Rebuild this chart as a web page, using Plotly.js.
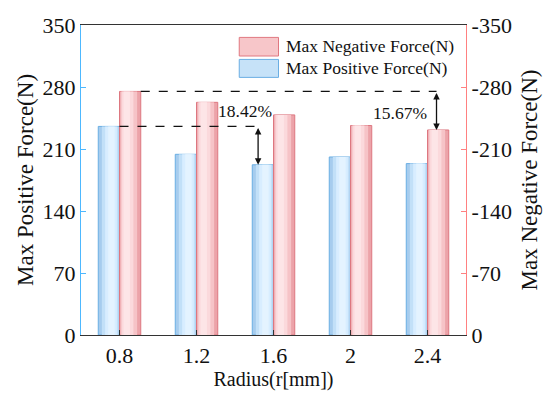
<!DOCTYPE html>
<html>
<head>
<meta charset="utf-8">
<script src="https://cdn.plot.ly/plotly-3.0.1.min.js"></script>
<style>html,body{margin:0;padding:0;background:#fff;}#chart{width:550px;height:402px;}</style>
</head>
<body>
<div id="chart"></div>
<script>
// ---- data ----
var radius = ['0.8', '1.2', '1.6', '2', '2.4'];
var maxPositive = [235.5, 204, 192.2, 201, 193.5];        // N (left axis)
var maxNegative = [-275, -262.7, -248.5, -236.5, -231.5]; // N (right axis)
var leftTicks = [0, 70, 140, 210, 280, 350];
var rightTickVals = [0, -70, -140, -210, -280, -350];
var rightTickText = ['0', '-70', '-140', '-210', '-280', '-350'];
var positiveName = 'Max Positive Force(N)';
var negativeName = 'Max Negative Force(N)';
var pctLabels = ['18.42%', '15.67%'];

var FONT = 'Liberation Serif';
var BW = 0.276;

function layerBars(y, axis, off, colors, fracs, shifts, lineColor, name) {
  var out = [];
  for (var i = 0; i < colors.length; i++) {
    var w = BW * fracs[i];
    var o = off + (BW - w) / 2 + shifts[i] * BW;
    out.push({
      type: 'bar', x: radius, y: y, yaxis: axis, name: name,
      width: w, offset: o, showlegend: false, hoverinfo: i === 0 ? 'x+y+name' : 'skip',
      marker: {color: colors[i], line: {color: i === 0 ? lineColor : 'rgba(0,0,0,0)', width: i === 0 ? 1 : 0}}
    });
  }
  return out;
}

var traces = [].concat(
  layerBars(maxPositive, 'y', -BW, ['#a6ccee', '#c2e0f8', '#d8edff', '#e4f3ff'], [1, 0.78, 0.55, 0.3], [0, 0.06, 0.1, 0.12], '#6aaee3', positiveName),
  layerBars(maxNegative, 'y2', 0, ['#eca3a9', '#f6c3c7', '#fbd9dc', '#fde5e7'], [1, 0.78, 0.55, 0.3], [0, -0.06, -0.12, -0.16], '#dd7780', negativeName)
);

var dashLine = {color: '#111', width: 1.3, dash: 'dash'};
var shapes = [
  {type: 'line', xref: 'x', yref: 'y', x0: 0, x1: 2 - 0.2, y0: maxPositive[0], y1: maxPositive[0], line: dashLine},
  {type: 'line', xref: 'x', yref: 'y2', x0: BW, x1: 4 + 0.117, y0: maxNegative[0], y1: maxNegative[0], line: dashLine},
  // custom legend swatches
  {type: 'rect', xref: 'paper', yref: 'paper', x0: 0.411, x1: 0.513, y0: 0.900, y1: 0.960, fillcolor: '#f7c6c9', line: {color: '#e07880', width: 1}},
  {type: 'rect', xref: 'paper', yref: 'paper', x0: 0.411, x1: 0.513, y0: 0.831, y1: 0.889, fillcolor: '#c6e2f8', line: {color: '#6aaee3', width: 1}}
];

var annotations = [
  {xref: 'x', yref: 'y', axref: 'x', ayref: 'y', x: 2 - 0.2, y: maxPositive[2], ax: 2 - 0.2, ay: maxPositive[0],
   showarrow: true, arrowhead: 2, startarrowhead: 2, arrowside: 'end+start', arrowsize: 1, startarrowsize: 1, arrowwidth: 1.3, arrowcolor: '#111', text: ''},
  {xref: 'x', yref: 'y2', axref: 'x', ayref: 'y2', x: 4 + 0.117, y: maxNegative[4], ax: 4 + 0.117, ay: maxNegative[0],
   showarrow: true, arrowhead: 2, startarrowhead: 2, arrowside: 'end+start', arrowsize: 1, startarrowsize: 1, arrowwidth: 1.3, arrowcolor: '#111', text: ''},
  {xref: 'x', yref: 'y', x: 1.63, y: 253, text: pctLabels[0], showarrow: false, font: {family: FONT, size: 17.5, color: '#111'}},
  {xref: 'x', yref: 'y', x: 3.64, y: 251, text: pctLabels[1], showarrow: false, font: {family: FONT, size: 17.5, color: '#111'}},
  {xref: 'paper', yref: 'paper', x: 0.526, y: 0.931, xanchor: 'left', yanchor: 'middle', text: negativeName, showarrow: false, font: {family: FONT, size: 17.5, color: '#111'}},
  {xref: 'paper', yref: 'paper', x: 0.526, y: 0.860, xanchor: 'left', yanchor: 'middle', text: positiveName, showarrow: false, font: {family: FONT, size: 17.5, color: '#111'}}
];

var layout = {
  width: 550, height: 402,
  margin: {l: 81, r: 84, t: 25, b: 67},
  paper_bgcolor: '#fff', plot_bgcolor: '#fff',
  font: {family: FONT, size: 21, color: '#111'},
  barmode: 'overlay',
  showlegend: false,
  xaxis: {
    type: 'category', range: [-0.5, 4.5],
    showline: true, linecolor: '#333', linewidth: 1.2, mirror: true,
    ticks: 'inside', ticklen: 5, tickcolor: '#333',
    showgrid: false, zeroline: false,
    tickfont: {family: FONT, size: 22, color: '#111'},
    title: {text: 'Radius(r[mm])', font: {family: FONT, size: 20, color: '#111'}, standoff: 4}
  },
  yaxis: {
    range: [0, 350], tickvals: leftTicks,
    showline: true, linecolor: '#4db8ff', linewidth: 1.2,
    ticks: 'inside', ticklen: 5, tickcolor: '#4db8ff',
    showgrid: false, zeroline: false,
    tickfont: {family: FONT, size: 22, color: '#111'},
    title: {text: positiveName, font: {family: FONT, size: 23, color: '#111'}, standoff: 2}
  },
  yaxis2: {
    overlaying: 'y', side: 'right',
    range: [0, -350], tickvals: rightTickVals, ticktext: rightTickText,
    showline: true, linecolor: '#ff8080', linewidth: 1.2,
    ticks: 'inside', ticklen: 5, tickcolor: '#ff8080',
    showgrid: false, zeroline: false,
    tickfont: {family: FONT, size: 22, color: '#111'},
    title: {text: negativeName, font: {family: FONT, size: 23, color: '#111'}, standoff: 10}
  },
  shapes: shapes,
  annotations: annotations
};

Plotly.newPlot('chart', traces, layout, {displayModeBar: false, staticPlot: true});
</script>
</body>
</html>
